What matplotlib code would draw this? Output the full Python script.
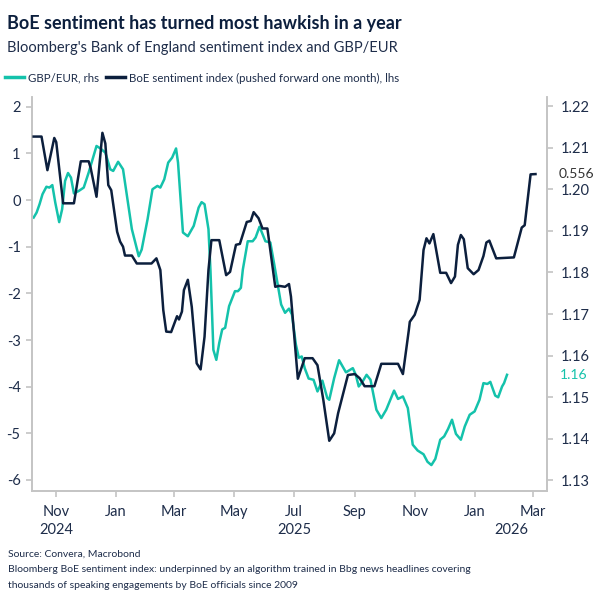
import matplotlib
matplotlib.use("Agg")
from matplotlib import pyplot as plt
from matplotlib.lines import Line2D
import matplotlib.dates as mdates
import pandas as pd

# BoE sentiment index (pushed forward one month), left axis
boe_dates = ["2024-10-09", "2024-10-17", "2024-10-23", "2024-10-30", "2024-11-01", "2024-11-08",
             "2024-11-19", "2024-11-26", "2024-12-04", "2024-12-06", "2024-12-12", "2024-12-18",
             "2024-12-21", "2024-12-24", "2024-12-27", "2025-01-02", "2025-01-05", "2025-01-08",
             "2025-01-10", "2025-01-17", "2025-01-22", "2025-02-06", "2025-02-11", "2025-02-15",
             "2025-02-18", "2025-02-21", "2025-02-26", "2025-03-04", "2025-03-06", "2025-03-09",
             "2025-03-11", "2025-03-15", "2025-03-19", "2025-03-24", "2025-03-28", "2025-04-01",
             "2025-04-05", "2025-04-08", "2025-04-16", "2025-04-23", "2025-04-27", "2025-05-03",
             "2025-05-07", "2025-05-14", "2025-05-18", "2025-05-21", "2025-05-26", "2025-05-30",
             "2025-06-04", "2025-06-12", "2025-06-16", "2025-06-22", "2025-06-26", "2025-06-28",
             "2025-07-05", "2025-07-12", "2025-07-20", "2025-07-25", "2025-07-31", "2025-08-06",
             "2025-08-11", "2025-08-15", "2025-08-25", "2025-09-01", "2025-09-06", "2025-09-11",
             "2025-09-21", "2025-09-28", "2025-10-15", "2025-10-20", "2025-10-26", "2025-10-27",
             "2025-11-01", "2025-11-06", "2025-11-10", "2025-11-13", "2025-11-16", "2025-11-20",
             "2025-11-27", "2025-12-03", "2025-12-08", "2025-12-12", "2025-12-15", "2025-12-18",
             "2025-12-21", "2025-12-25", "2025-12-31", "2026-01-05", "2026-01-10", "2026-01-13",
             "2026-01-16", "2026-01-23", "2026-02-10", "2026-02-18", "2026-02-21", "2026-02-27",
             "2026-03-04"]
boe_vals = [1.36, 1.36, 0.64, 1.33, 1.24, -0.07, -0.07, 0.83, 0.83, 0.69, 0.07, 1.44, 1.21, 0.32,
            0.21, -0.68, -0.89, -1.0, -1.19, -1.19, -1.36, -1.36, -1.25, -1.5, -2.36, -2.82, -2.83,
            -2.49, -2.56, -2.39, -1.93, -1.71, -2.29, -3.5, -3.63, -2.93, -1.5, -0.86, -0.86, -1.61,
            -1.54, -0.96, -0.94, -0.47, -0.45, -0.26, -0.39, -0.61, -0.61, -1.86, -1.84, -1.86,
            -1.8, -2.07, -3.83, -3.39, -3.39, -3.54, -4.29, -5.16, -5.0, -4.57, -3.75, -3.73,
            -3.82, -3.99, -3.99, -3.51, -3.51, -3.73, -2.79, -2.61, -2.46, -2.14, -1.07, -0.82,
            -0.93, -0.73, -1.56, -1.56, -1.78, -1.64, -0.96, -0.75, -0.84, -1.46, -1.59, -1.5,
            -1.2, -0.91, -0.87, -1.25, -1.23, -0.59, -0.54, 0.55, 0.556]

# GBP/EUR, right axis
fx_dates = ["2024-10-09", "2024-10-12", "2024-10-15", "2024-10-18", "2024-10-22", "2024-10-25",
            "2024-10-28", "2024-10-31", "2024-11-04", "2024-11-07", "2024-11-10", "2024-11-13",
            "2024-11-16", "2024-11-19", "2024-11-24", "2024-11-29", "2024-12-04", "2024-12-08",
            "2024-12-12", "2024-12-16", "2024-12-21", "2024-12-26", "2024-12-29", "2025-01-03",
            "2025-01-08", "2025-01-12", "2025-01-17", "2025-01-24", "2025-01-27", "2025-02-02",
            "2025-02-07", "2025-02-12", "2025-02-15", "2025-02-19", "2025-02-23", "2025-02-27",
            "2025-03-03", "2025-03-05", "2025-03-10", "2025-03-15", "2025-03-21", "2025-03-26",
            "2025-03-29", "2025-04-01", "2025-04-05", "2025-04-07", "2025-04-10", "2025-04-13",
            "2025-04-16", "2025-04-19", "2025-04-22", "2025-04-26", "2025-05-02", "2025-05-05",
            "2025-05-08", "2025-05-10", "2025-05-15", "2025-05-20", "2025-05-23", "2025-05-27",
            "2025-06-02", "2025-06-07", "2025-06-11", "2025-06-18", "2025-06-22", "2025-06-26",
            "2025-06-29", "2025-07-03", "2025-07-06", "2025-07-09", "2025-07-12", "2025-07-16",
            "2025-07-21", "2025-07-25", "2025-07-30", "2025-08-04", "2025-08-06", "2025-08-11",
            "2025-08-16", "2025-08-23", "2025-08-30", "2025-09-02", "2025-09-05", "2025-09-09",
            "2025-09-13", "2025-09-17", "2025-09-23", "2025-09-28", "2025-10-03", "2025-10-11",
            "2025-10-15", "2025-10-20", "2025-10-25", "2025-10-30", "2025-11-04", "2025-11-10",
            "2025-11-14", "2025-11-18", "2025-11-22", "2025-11-27", "2025-12-01", "2025-12-05",
            "2025-12-09", "2025-12-13", "2025-12-18", "2025-12-22", "2025-12-27", "2026-01-01",
            "2026-01-06", "2026-01-10", "2026-01-14", "2026-01-17", "2026-01-22", "2026-01-25",
            "2026-01-29", "2026-01-31", "2026-02-03"]
fx_vals = [1.1932, 1.1944, 1.1964, 1.1988, 1.2006, 1.2004, 1.2010, 1.1968, 1.1921, 1.1952,
           1.2020, 1.2039, 1.2028, 1.1990, 1.1996, 1.2004, 1.2040, 1.2072, 1.2104, 1.2098,
           1.2088, 1.2048, 1.2044, 1.2066, 1.2048, 1.1984, 1.1904, 1.1839, 1.1855, 1.1928,
           1.2000, 1.2008, 1.2004, 1.2024, 1.2064, 1.2076, 1.2098, 1.2064, 1.1896, 1.1887,
           1.1912, 1.1956, 1.1969, 1.1964, 1.1904, 1.1807, 1.1614, 1.1590, 1.1631, 1.1663,
           1.1667, 1.1719, 1.1755, 1.1755, 1.1763, 1.1807, 1.1875, 1.1875, 1.1884, 1.1910,
           1.1875, 1.1872, 1.1819, 1.1723, 1.1703, 1.1713, 1.1699, 1.1627, 1.1595, 1.1598,
           1.1570, 1.1545, 1.1542, 1.1514, 1.1540, 1.1498, 1.1494, 1.1546, 1.1589, 1.1560,
           1.1570, 1.1554, 1.1526, 1.1538, 1.1554, 1.1542, 1.1470, 1.1450, 1.1470, 1.1516,
           1.1496, 1.1502, 1.1474, 1.1386, 1.1372, 1.1363, 1.1345, 1.1337, 1.1352, 1.1398,
           1.1406, 1.1424, 1.1446, 1.1412, 1.1398, 1.1430, 1.1458, 1.1466, 1.1494, 1.1534,
           1.1532, 1.1537, 1.1504, 1.1500, 1.1526, 1.1534, 1.1554]

month_ticks = ["2024-11-01", "2025-01-01", "2025-03-01", "2025-05-01", "2025-07-01",
               "2025-09-01", "2025-11-01", "2026-01-01", "2026-03-01"]
month_labels = ["Nov", "Jan", "Mar", "May", "Jul", "Sep", "Nov", "Jan", "Mar"]
year_labels = [("2024-11-01", "2024"), ("2025-07-01", "2025"), ("2026-02-07", "2026")]

TEAL = "#14c2ab"
NAVY = "#0c1f3d"
TXT = "#1e2d4a"
SPINE = "#c4c4c4"

plt.rcParams["font.family"] = ["Lato", "DejaVu Sans"]
plt.rcParams["axes.unicode_minus"] = False

fig = plt.figure(figsize=(6.06, 6.06), dpi=100)
ax = fig.add_axes([0.0523, 0.1903, 0.8508, 0.6501])
ax2 = ax.twinx()

bd = pd.to_datetime(boe_dates)
fd = pd.to_datetime(fx_dates)
ax.plot(bd, boe_vals, color=NAVY, lw=1.8, zorder=3)
ax2.plot(fd, fx_vals, color=TEAL, lw=1.8, zorder=2)
ax.set_zorder(ax2.get_zorder() + 1)
ax.patch.set_visible(False)

ax.set_xlim(pd.Timestamp("2024-10-07"), pd.Timestamp("2026-03-16"))
ax.set_ylim(-6.229, 2.214)
ax2.set_ylim(1.12755, 1.22224)

ax.set_yticks(range(-6, 3))
ax.set_yticklabels([str(v) for v in range(-6, 3)])
r_ticks = [1.13 + 0.01 * i for i in range(10)]
ax2.set_yticks(r_ticks)
ax2.set_yticklabels(["%.2f" % v for v in r_ticks])

ax.set_xticks(pd.to_datetime(month_ticks))
ax.set_xticklabels(month_labels)
for a in (ax, ax2):
    for s in a.spines.values():
        s.set_color(SPINE)
        s.set_linewidth(1.2)
    a.spines["top"].set_visible(False)
    a.tick_params(colors=SPINE, labelcolor=TXT, labelsize=10.5, length=4, width=1.2)
ax.tick_params(axis="x", pad=6)
ax.tick_params(axis="y", pad=4)
ax2.tick_params(axis="y", pad=6)

for d, t in year_labels:
    ax.annotate(t, xy=(mdates.date2num(pd.Timestamp(d)), 0), xycoords=("data", "axes fraction"),
                xytext=(0, -28), textcoords="offset points", ha="center", va="center",
                fontsize=10.5, color=TXT)

# end-value labels
fig.text(576 / 606, 1 - 174 / 606, "0.556", ha="center", va="center", fontsize=10, color="#333333",
         bbox=dict(facecolor="white", edgecolor="none", pad=1))
fig.text(574 / 606, 1 - 375 / 606, "1.16", ha="center", va="center", fontsize=10, color=TEAL,
         bbox=dict(facecolor="white", edgecolor="none", pad=1))

fig.text(7 / 606, 1 - 23 / 606, "BoE sentiment has turned most hawkish in a year", fontsize=13,
         fontweight="bold", color=NAVY, va="center", ha="left")
fig.text(7 / 606, 1 - 48 / 606, "Bloomberg's Bank of England sentiment index and GBP/EUR", fontsize=10.5,
         color=TXT, va="center", ha="left")

handles = [Line2D([], [], color=TEAL, lw=2.5), Line2D([], [], color=NAVY, lw=2.5)]
fig.legend(handles, ["GBP/EUR, rhs", "BoE sentiment index (pushed forward one month), lhs"],
           loc="center left", bbox_to_anchor=(0.0, 1 - 78 / 606), ncol=2, frameon=False,
           fontsize=8.3, handlelength=1.7, handletextpad=0.3, columnspacing=0.6,
           labelcolor=TXT, borderaxespad=0)

fig.text(8 / 606, 1 - 554 / 606, "Source: Convera, Macrobond", fontsize=7.5, color=TXT, va="center")
fig.text(8 / 606, 1 - 570 / 606,
         "Bloomberg BoE sentiment index: underpinned by an algorithm trained in Bbg news headlines covering",
         fontsize=7.5, color=TXT, va="center")
fig.text(8 / 606, 1 - 586 / 606, "thousands of speaking engagements by BoE officials since 2009",
         fontsize=7.5, color=TXT, va="center")

fig.savefig("out.png", dpi=100)
